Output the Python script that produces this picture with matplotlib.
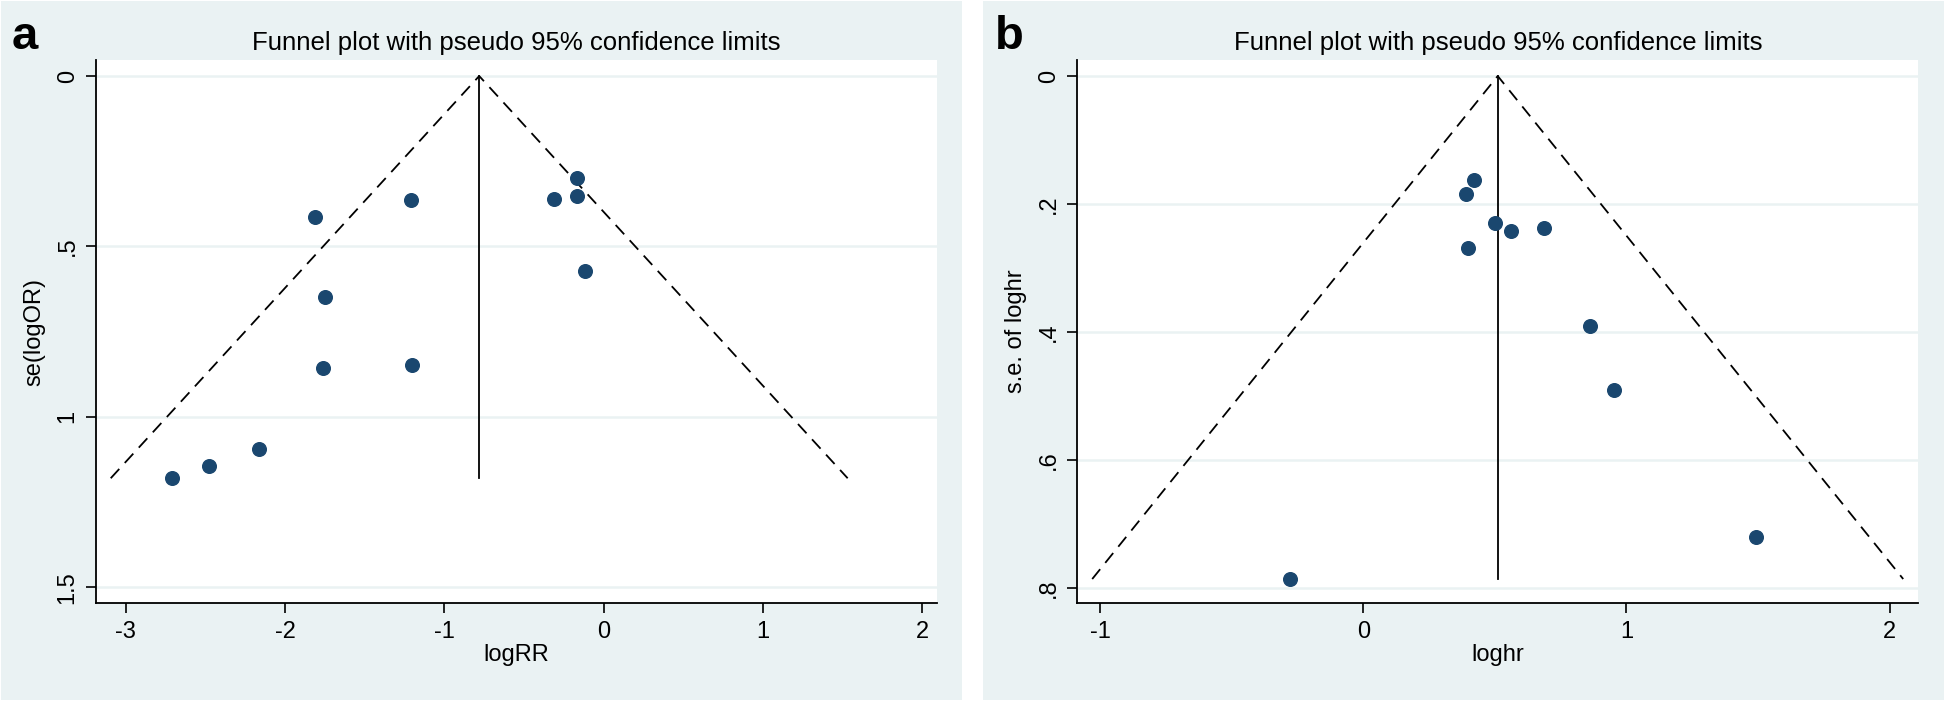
import numpy as np
import matplotlib.pyplot as plt
from matplotlib.patches import Rectangle

plt.rcParams['font.family'] = ['Liberation Sans', 'DejaVu Sans']

# panel a: logRR vs se(logOR)
a_logrr = [-0.166, -0.314, -0.170, -1.209, -1.812, -0.115, -1.746,
           -1.761, -1.205, -2.162, -2.478, -2.711]
a_se = [0.300, 0.360, 0.352, 0.363, 0.415, 0.573, 0.649,
        0.857, 0.849, 1.095, 1.144, 1.180]
a_theta = -0.781
a_xticks = [-3, -2, -1, 0, 1, 2]
a_yticks = [0, 0.5, 1, 1.5]
a_ylabels = ['0', '.5', '1', '1.5']

# panel b: loghr vs s.e. of loghr
b_loghr = [0.419, 0.391, 0.501, 0.560, 0.688, 0.398, 0.862,
           0.952, 1.494, -0.277]
b_se = [0.163, 0.185, 0.229, 0.242, 0.237, 0.269, 0.391,
        0.491, 0.720, 0.786]
b_theta = 0.511
b_xticks = [-1, 0, 1, 2]
b_yticks = [0, 0.2, 0.4, 0.6, 0.8]
b_ylabels = ['0', '.2', '.4', '.6', '.8']

BG = '#eaf2f3'
NAVY = '#1a476f'

fig = plt.figure(figsize=(19.44, 7.01), dpi=100)
fig.patches.append(Rectangle((0.0005, 0.002), 0.4944, 0.996, transform=fig.transFigure,
                             facecolor=BG, edgecolor='none', zorder=-10))
fig.patches.append(Rectangle((0.5055, 0.002), 0.4945, 0.996, transform=fig.transFigure,
                             facecolor=BG, edgecolor='none', zorder=-10))


def funnel(ax, x, se, theta, xticks, yticks, ylabels, xlim, ylim, xlabel, ylabel):
    semax = max(se)
    ax.set_facecolor('white')
    for yt in yticks:
        ax.axhline(yt, color=BG, lw=1.8, zorder=0)
    ax.plot([theta - 1.96 * semax, theta, theta + 1.96 * semax], [semax, 0, semax],
            color='black', lw=1.3, ls=(0, (7, 4.5)), zorder=2)
    ax.plot([theta, theta], [0, semax], color='black', lw=1.3, zorder=2)
    ax.plot(x, se, 'o', color=NAVY, ms=9.8, zorder=3)
    ax.set_xlim(xlim)
    ax.set_ylim(ylim)
    ax.set_xticks(xticks)
    ax.set_xticklabels([str(t) for t in xticks])
    ax.set_yticks(yticks)
    ax.set_yticklabels(ylabels, rotation=90, va='center')
    ax.tick_params(direction='out', length=7.5, width=1.2, labelsize=17, pad=5)
    for s in ['top', 'right']:
        ax.spines[s].set_visible(False)
    for s in ['left', 'bottom']:
        ax.spines[s].set_linewidth(1.3)
    ax.set_xlabel(xlabel, fontsize=17, labelpad=1)
    ax.set_ylabel(ylabel, fontsize=17, labelpad=8)
    ax.set_title('Funnel plot with pseudo 95% confidence limits', fontsize=18.5, pad=7)


ax1 = fig.add_axes([0.0494, 0.1393, 0.4328, 0.7751])
funnel(ax1, a_logrr, a_se, a_theta, a_xticks, a_yticks, a_ylabels,
       (-3.186, 2.095), (1.547, -0.047), 'logRR', 'se(logOR)')

ax2 = fig.add_axes([0.5542, 0.1393, 0.4326, 0.7751])
funnel(ax2, b_loghr, b_se, b_theta, b_xticks, b_yticks, b_ylabels,
       (-1.086, 2.109), (0.824, -0.025), 'loghr', 's.e. of loghr')

fig.text(0.006, 0.93, 'a', fontsize=34, fontweight='bold')
fig.text(0.512, 0.93, 'b', fontsize=34, fontweight='bold')

fig.savefig('out.png', dpi=100)
